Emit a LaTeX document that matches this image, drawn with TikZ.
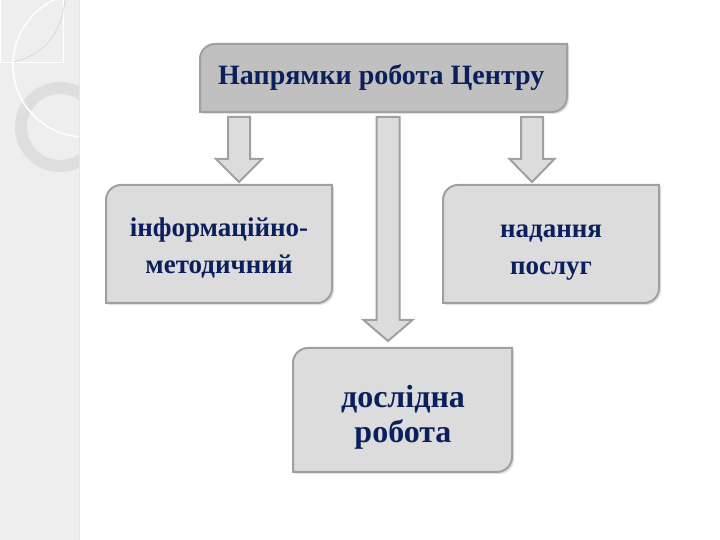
\documentclass[tikz,border=0pt]{standalone}
\usepackage{fontspec}
\setmainfont{Liberation Serif}
\definecolor{navy}{HTML}{0B1F5C}
\definecolor{edge}{HTML}{A0A0A0}
\definecolor{boxfill}{HTML}{DCDCDC}
\definecolor{topfill}{HTML}{C0C0C0}
\definecolor{strip}{HTML}{EEEEEE}
\definecolor{ring}{HTML}{DEDEDE}
\newcommand\diagshape[5]{% x1 y1 x2 y2 (y up), fill colour
  \path[fill=black!12] (#1+2+15,#4-2) -- (#3+2,#4-2) -- (#3+2,#2-2+15) arc[start angle=0,end angle=-90,radius=15] -- (#1+2,#2-2) -- (#1+2,#4-2-15) arc[start angle=180,end angle=90,radius=15] -- cycle;
  \draw[draw=edge,line width=2,fill=#5] (#1+15,#4) -- (#3,#4) -- (#3,#2+15) arc[start angle=0,end angle=-90,radius=15] -- (#1,#2) -- (#1,#4-15) arc[start angle=180,end angle=90,radius=15] -- cycle;}
% block arrow: centre x, top y, tip y, half shaft width, half head width, head length
\newcommand\blockarrow[6]{%
  \draw[draw=edge,line width=2,fill=boxfill,line join=miter]
    (#1-#4,#2) -- (#1+#4,#2) -- (#1+#4,#3+#6) -- (#1+#5,#3+#6) -- (#1,#3)
    -- (#1-#5,#3+#6) -- (#1-#4,#3+#6) -- cycle;}
\tikzset{
  lbl/.style={text=navy,font=\bfseries,align=center,inner sep=0}
}
\begin{document}
\begin{tikzpicture}[x=1pt,y=1pt]
\useasboundingbox (0,0) rectangle (720,540);
\fill[white] (0,0) rectangle (720,540);
% left decorative strip
\begin{scope}
\clip (0,0) rectangle (79,540);
\fill[strip] (0,0) rectangle (79,540);
\draw[draw=white,line width=1] (0,540) rectangle (63,477);
\draw[ring,line width=12] (60,413) circle[radius=39];
\draw[white,line width=1.5] (85,475) circle[radius=72];
\draw[black!18,line width=0.6] (65,540) .. controls (60,500) and (40,485) .. (14,478);
\end{scope}
\draw[black!10,line width=0.8] (79,0) -- (79,540);
% boxes
\diagshape{200}{428}{567}{496}{topfill}
\diagshape{106}{237}{332}{355}{boxfill}
\diagshape{443}{237}{659}{355}{boxfill}
\diagshape{293}{68}{512}{192}{boxfill}
\node[lbl,font=\bfseries\fontsize{28}{32}\selectfont,anchor=west] (top) at (218,462) {Напрямки робота Центру};
\node[lbl,font=\bfseries\fontsize{27}{37}\selectfont] (info) at (219,292) {інформаційно-\\методичний};
\node[lbl,font=\bfseries\fontsize{27}{37}\selectfont] (serv) at (551,287) {надання\\послуг};
\node[lbl,font=\bfseries\fontsize{32}{35}\selectfont] (res) at (403,123) {дослідна\\робота};
% block arrows
\blockarrow{239}{423}{358}{11}{23}{23}
\blockarrow{388}{423}{199}{11.5}{24.5}{21}
\blockarrow{532}{423}{358}{11}{22.5}{23}
\end{tikzpicture}
\end{document}
